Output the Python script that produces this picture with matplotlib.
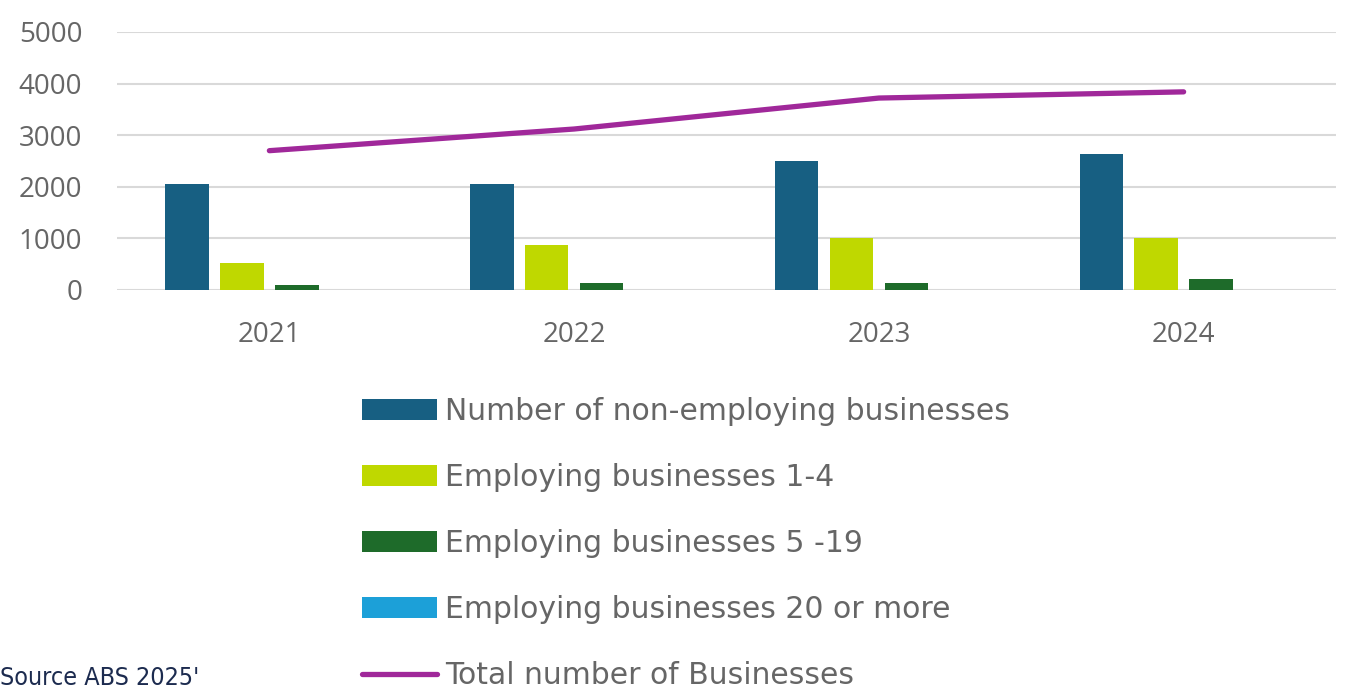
import matplotlib
matplotlib.use("Agg")
import matplotlib.pyplot as plt
import numpy as np

years = ["2021", "2022", "2023", "2024"]
non_employing = [2050, 2050, 2500, 2630]
emp_1_4 = [520, 870, 1000, 1000]
emp_5_19 = [100, 140, 140, 210]
emp_20_plus = [0, 0, 0, 0]
total = [2700, 3120, 3720, 3840]

series_labels = ["Number of non-employing businesses", "Employing businesses 1-4",
                 "Employing businesses 5 -19", "Employing businesses 20 or more"]
colors = ["#175f82", "#bfd800", "#1e6b2a", "#1ca0d8"]
line_color = "#a0289a"
line_label = "Total number of Businesses"

plt.rcParams['font.family'] = ['Open Sans', 'DejaVu Sans']
text_color = "#666666"

fig = plt.figure(figsize=(13.45, 6.91), dpi=100)
ax = fig.add_axes([117/1345, 1-290/691, (1336-117)/1345, (290-32)/691])

x = np.arange(len(years))
bw = 0.143
step = 0.18
handles = []
for i, (vals, c, lab) in enumerate(zip([non_employing, emp_1_4, emp_5_19, emp_20_plus], colors, series_labels)):
    h = ax.bar(x + (i - 1.5) * step, vals, width=bw, color=c, label=lab, zorder=3)
    handles.append(h)
ln, = ax.plot(x, total, color=line_color, lw=3.8, solid_capstyle='round', label=line_label, zorder=4)
handles.append(ln)

ax.set_xlim(-0.5, 3.5)
ax.set_ylim(0, 5000)
ax.set_yticks(range(0, 5001, 1000))
ax.set_xticks(x)
ax.set_xticklabels(years)
ax.grid(axis='y', color='#d9d9d9', lw=1.5, zorder=0)
for s in ax.spines.values():
    s.set_visible(False)
ax.tick_params(axis='both', length=0, labelsize=20, labelcolor=text_color)
ax.tick_params(axis='y', pad=25)
ax.tick_params(axis='x', pad=22)

leg = fig.legend(handles=handles, labels=series_labels + [line_label],
                 loc='upper left', bbox_to_anchor=(362/1345, 1-397/691),
                 frameon=False, prop={'family': ['DejaVu Sans'], 'size': 21.5},
                 handlelength=2.5, handleheight=0.7,
                 handletextpad=0.27, labelspacing=1.24, borderpad=0, borderaxespad=0)
for t in leg.get_texts():
    t.set_color(text_color)

fig.text(0.0, 1-678/691, "Source ABS 2025'", fontsize=18, color="#1c2b4f",
         family=['DejaVu Sans'], fontstretch='condensed', va='center', ha='left')

fig.savefig("out.png", dpi=100)
